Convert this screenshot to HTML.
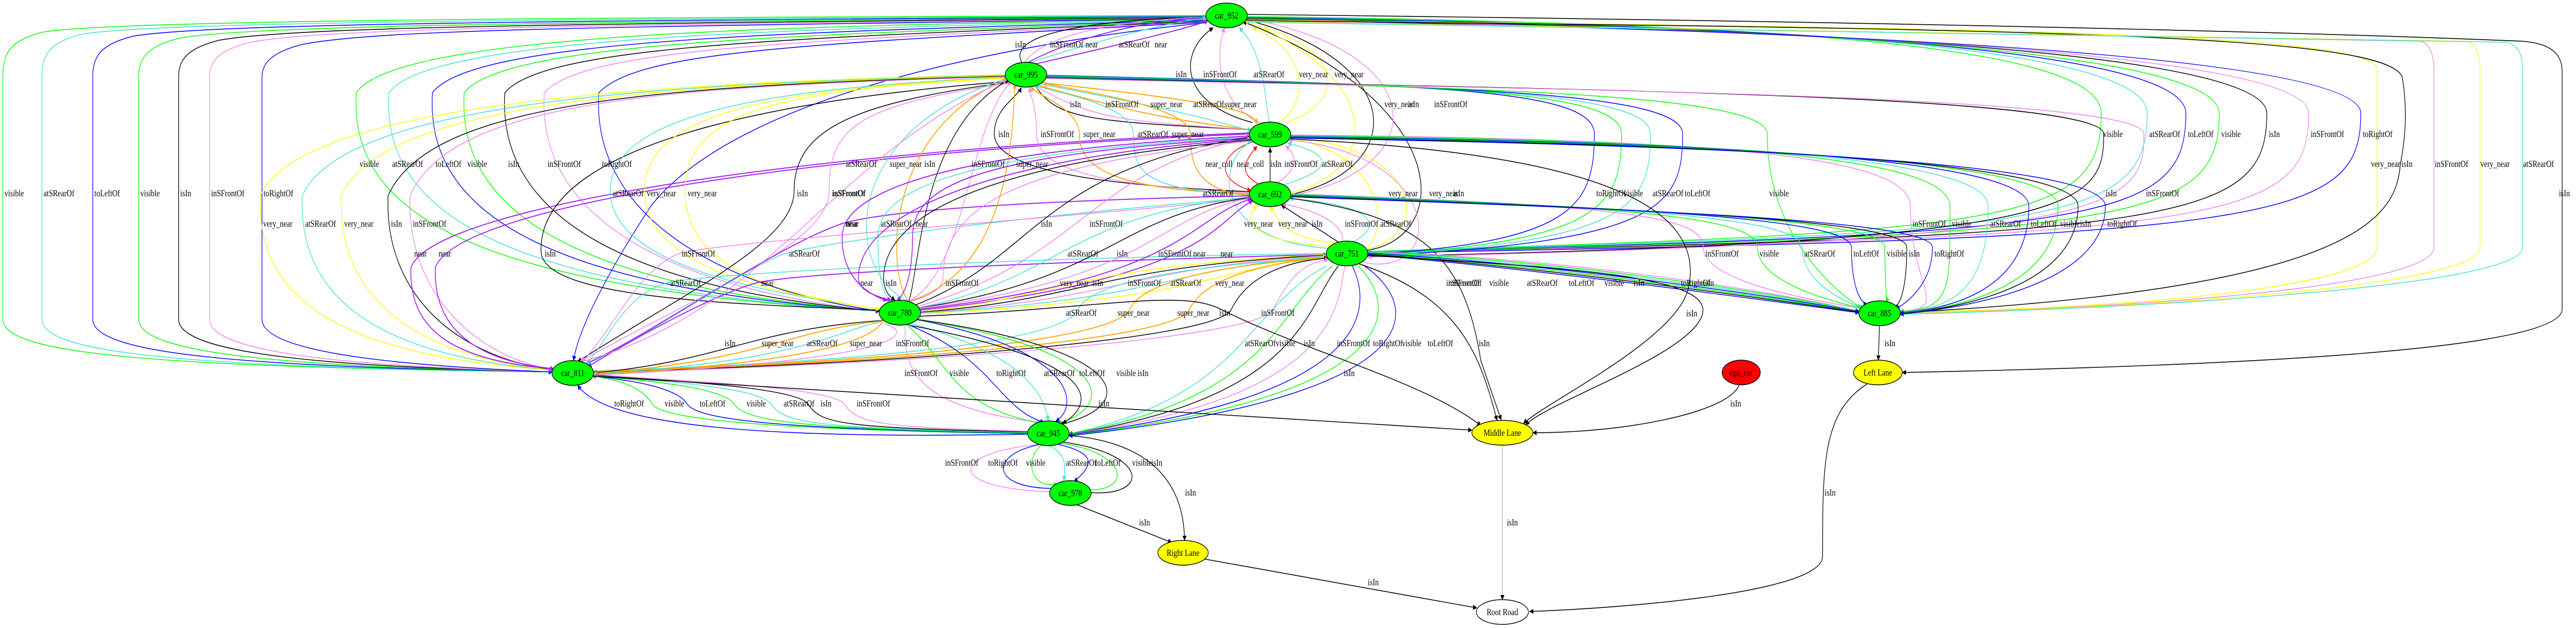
<!DOCTYPE html>
<html><head><meta charset="utf-8">
<style>
html,body{margin:0;padding:0;background:#fff;overflow:hidden;width:100%;height:100%;}
svg{display:block;width:100vw;height:100vh;}
path{fill:none;stroke-width:1.6;}
.k{stroke:#000;marker-end:url(#mk);}
.g{stroke:#00ff00;marker-end:url(#mg);}
.t{stroke:#40e0d0;marker-end:url(#mt);}
.b{stroke:#0000ff;marker-end:url(#mb);}
.v{stroke:#ee82ee;marker-end:url(#mv);}
.p{stroke:#a020f0;stroke-width:2;marker-end:url(#mp);}
.y{stroke:#ffff00;marker-end:url(#my);}
.o{stroke:#ffa500;stroke-width:2;marker-end:url(#mo);}
.r{stroke:#ff0000;marker-end:url(#mr);}
.gr{stroke:#888;stroke-width:1;marker-end:url(#mk);}
text{font-family:"Liberation Serif","Times New Roman",serif;font-size:18px;fill:#000;}
.n{text-anchor:middle;}
</style></head><body>
<svg viewBox="0 0 6332 1219" preserveAspectRatio="none" xmlns="http://www.w3.org/2000/svg">
<defs>
<marker id="mk" viewBox="0 0 10 10" refX="9" refY="5" markerWidth="14" markerHeight="10" markerUnits="userSpaceOnUse" orient="auto"><path d="M0,0L10,5L0,10z" style="fill:#000;stroke:none"/></marker>
<marker id="mg" viewBox="0 0 10 10" refX="9" refY="5" markerWidth="14" markerHeight="10" markerUnits="userSpaceOnUse" orient="auto"><path d="M0,0L10,5L0,10z" style="fill:#00ff00;stroke:none"/></marker>
<marker id="mt" viewBox="0 0 10 10" refX="9" refY="5" markerWidth="14" markerHeight="10" markerUnits="userSpaceOnUse" orient="auto"><path d="M0,0L10,5L0,10z" style="fill:#40e0d0;stroke:none"/></marker>
<marker id="mb" viewBox="0 0 10 10" refX="9" refY="5" markerWidth="14" markerHeight="10" markerUnits="userSpaceOnUse" orient="auto"><path d="M0,0L10,5L0,10z" style="fill:#0000ff;stroke:none"/></marker>
<marker id="mv" viewBox="0 0 10 10" refX="9" refY="5" markerWidth="14" markerHeight="10" markerUnits="userSpaceOnUse" orient="auto"><path d="M0,0L10,5L0,10z" style="fill:#ee82ee;stroke:none"/></marker>
<marker id="mp" viewBox="0 0 10 10" refX="9" refY="5" markerWidth="14" markerHeight="10" markerUnits="userSpaceOnUse" orient="auto"><path d="M0,0L10,5L0,10z" style="fill:#a020f0;stroke:none"/></marker>
<marker id="my" viewBox="0 0 10 10" refX="9" refY="5" markerWidth="14" markerHeight="10" markerUnits="userSpaceOnUse" orient="auto"><path d="M0,0L10,5L0,10z" style="fill:#ffff00;stroke:none"/></marker>
<marker id="mo" viewBox="0 0 10 10" refX="9" refY="5" markerWidth="14" markerHeight="10" markerUnits="userSpaceOnUse" orient="auto"><path d="M0,0L10,5L0,10z" style="fill:#ffa500;stroke:none"/></marker>
<marker id="mr" viewBox="0 0 10 10" refX="9" refY="5" markerWidth="14" markerHeight="10" markerUnits="userSpaceOnUse" orient="auto"><path d="M0,0L10,5L0,10z" style="fill:#ff0000;stroke:none"/></marker>
</defs>

<path class="g" d="M2966,30 C1500,34 307,38 107,62 C27,78 7,100 7,150 L7,620 C7,690 407,712 1358,722"/>
<path class="t" d="M2966,31 C1500,37 403,41 203,66 C123,82 103,104 103,150 L103,620 C103,690 503,712 1358,722"/>
<path class="b" d="M2966,32 C1500,40 528,44 328,70 C248,86 228,108 228,150 L228,620 C228,690 628,712 1358,722"/>
<path class="g" d="M2966,33 C1500,43 641,47 441,74 C361,90 341,112 341,150 L341,620 C341,690 741,712 1358,722"/>
<path class="k" d="M2966,34 C1500,46 739,50 539,78 C459,94 439,116 439,150 L439,620 C439,690 839,712 1358,722"/>
<path class="v" d="M2966,35 C1500,49 815,53 615,82 C535,98 515,120 515,150 L515,620 C515,690 915,712 1358,722"/>
<path class="b" d="M2966,36 C1500,52 944,56 744,86 C664,102 644,124 644,150 L644,620 C644,690 1044,712 1358,722"/>

<path class="g" d="M2966,37 C2000,50 976,60 876,180 C856,420 1176,560 2162,604"/>
<path class="t" d="M2966,38 C2000,56 1056,66 956,180 C936,420 1256,560 2162,604"/>
<path class="b" d="M2966,39 C2000,62 1163,72 1063,180 C1043,420 1363,560 2162,604"/>
<path class="g" d="M2966,40 C2000,68 1241,78 1141,180 C1121,420 1441,560 2162,604"/>
<path class="k" d="M2966,41 C2000,74 1341,84 1241,180 C1221,420 1541,560 2162,604"/>
<path class="v" d="M2966,42 C2000,80 1438,90 1338,180 C1318,420 1638,560 2162,604"/>
<path class="b" d="M2966,43 C2000,86 1572,96 1472,180 C1452,420 1772,560 2162,604"/>
<path class="b" d="M2966,44 C2400,90 1800,200 1600,400 C1500,520 1420,640 1410,700"/>

<path class="y" d="M2472,145 C1600,160 740,200 640,380 C630,560 790,690 1360,718"/>
<path class="t" d="M2472,146 C1600,162 843,200 743,380 C733,560 893,690 1360,718"/>
<path class="y" d="M2472,147 C1600,164 939,200 839,380 C829,560 989,690 1360,718"/>
<path class="k" d="M2472,148 C1600,166 1054,200 954,380 C944,560 1104,690 1360,718"/>
<path class="v" d="M2472,149 C1600,168 1108,200 1008,380 C998,560 1158,690 1360,718"/>
<path class="p" d="M3072,258 C2000,290 1060,400 1010,520 C1005,640 1110,700 1362,716"/>
<path class="p" d="M3072,260 C2000,295 1120,400 1070,520 C1065,640 1170,700 1362,716"/>
<path class="k" d="M2480,158 C1800,200 1320,300 1330,490 C1340,580 1800,590 2162,602"/>
<path class="t" d="M2472,150 C1900,170 1500,220 1500,370 C1500,520 1900,570 2162,600"/>
<path class="y" d="M2472,151 C1900,172 1584,220 1584,370 C1584,520 1900,570 2162,600"/>
<path class="y" d="M2472,152 C1900,174 1684,220 1684,370 C1684,520 1900,570 2162,600"/>
<path class="k" d="M2475,160 C2100,200 1952,250 1952,370 C1952,470 1700,560 1420,702"/>
<path class="v" d="M2475,162 C2100,205 2038,250 2038,370 C2038,470 1750,560 1425,702"/>
<path class="p" d="M3075,380 C2500,390 2170,410 2070,434 C1900,480 1600,650 1440,706"/>
<path class="t" d="M3075,384 C2500,420 2030,470 1930,492 C1830,520 1600,650 1440,708"/>
<path class="v" d="M3075,386 C2500,430 1770,470 1670,492 C1570,520 1500,650 1430,702"/>
<path class="t" d="M3262,492 C2500,500 1740,530 1640,549 C1540,570 1500,650 1440,710"/>
<path class="p" d="M3262,494 C2500,510 1960,530 1860,549 C1760,570 1550,660 1445,712"/>

<path class="k" d="M2512,122 C2475,70 2645,40 2966,33"/>
<path class="v" d="M2518,122 C2561,70 2731,40 2966,33"/>
<path class="p" d="M2525,122 C2648,70 2818,40 2966,34"/>
<path class="t" d="M2530,122 C2730,70 2900,40 2966,35"/>
<path class="p" d="M2540,125 C2818,75 2940,50 2970,40"/>
<path class="k" d="M3079,238 C2896,200 2896,100 2982,54"/>
<path class="v" d="M3097,238 C2988,200 2988,100 3010,54"/>
<path class="t" d="M3121,238 C3109,200 3109,100 3046,54"/>
<path class="y" d="M3143,238 C3219,200 3219,100 3079,54"/>
<path class="y" d="M3161,238 C3306,200 3306,100 3105,54"/>
<path class="k" d="M2545,167 C2600,230 2660,235 3076,252"/>
<path class="v" d="M2545,167 C2687,230 2747,235 3076,252"/>
<path class="o" d="M2548,165 C2798,220 2858,230 3076,252"/>
<path class="t" d="M2550,162 C2903,215 2963,230 3076,254"/>
<path class="o" d="M2555,160 C3017,200 3077,215 3090,240"/>
<path class="k" d="M3075,372 C2700,360 2444,330 2444,260 C2444,210 2500,190 2510,170"/>
<path class="v" d="M3075,374 C2700,360 2548,330 2548,260 C2548,210 2535,190 2530,170"/>
<path class="o" d="M3075,376 C2750,370 2653,330 2653,260 C2653,210 2545,185 2535,168"/>
<path class="t" d="M3075,378 C2800,370 2786,330 2786,260 C2786,200 2560,175 2545,165"/>
<path class="o" d="M3075,380 C2950,370 2926,330 2926,260 C2926,200 2580,170 2565,160"/>
<path class="t" d="M2230,584 C2069,520 2069,250 2478,152"/>
<path class="o" d="M2232,584 C2177,520 2177,250 2478,153"/>
<path class="k" d="M2234,584 C2262,520 2262,250 2480,155"/>
<path class="v" d="M2236,584 C2378,520 2378,250 2485,158"/>
<path class="o" d="M2238,584 C2488,520 2488,250 2495,163"/>
<path class="r" d="M3080,275 C2990,300 2990,350 3075,370"/>
<path class="r" d="M3100,360 C3050,340 3050,320 3090,284"/>
<path class="k" d="M3122,353 L3122,287"/>
<path class="v" d="M3140,355 C3190,330 3190,300 3160,283"/>
<path class="t" d="M3150,360 C3280,330 3280,300 3165,278"/>
<path class="v" d="M1430,702 C1900,600 2046,300 2475,155"/>
<path class="t" d="M3268,482 C2990,470 2980,320 3078,272"/>
<path class="y" d="M3355,482 C3413,460 3413,300 3168,268"/>
<path class="y" d="M3358,484 C3513,460 3513,290 3170,266"/>
<path class="k" d="M3360,486 C3572,460 3572,200 3055,42"/>
<path class="y" d="M3170,375 C3400,330 3400,150 3060,40"/>
<path class="k" d="M3170,378 C3461,330 3461,120 3062,38"/>
<path class="v" d="M3170,380 C3525,330 3525,100 3064,36"/>
<path class="p" d="M3072,264 C2400,290 2070,360 2070,460 C2070,560 2170,580 2180,584"/>
<path class="t" d="M3072,266 C2400,295 2158,360 2158,460 C2158,560 2180,580 2190,584"/>
<path class="p" d="M3072,268 C2400,300 2243,360 2243,460 C2243,560 2210,580 2205,584"/>
<path class="k" d="M2250,592 C2550,500 2550,330 3075,266"/>
<path class="v" d="M2255,595 C2670,500 2670,330 3075,268"/>
<path class="y" d="M3275,478 C3058,470 3058,420 3090,400"/>
<path class="y" d="M3285,472 C3142,460 3142,420 3122,402"/>
<path class="k" d="M3290,470 L3150,398"/>
<path class="v" d="M3300,468 C3306,440 3250,410 3150,395"/>
<path class="t" d="M3330,468 C3393,440 3393,400 3170,385"/>
<path class="t" d="M2255,598 C2614,540 2614,420 3075,382"/>
<path class="k" d="M2257,598 C2735,540 2735,420 3075,383"/>
<path class="v" d="M2259,598 C2837,540 2837,420 3075,384"/>
<path class="p" d="M2261,600 C2923,540 2923,420 3077,386"/>
<path class="p" d="M2263,602 C2990,540 2990,420 3080,390"/>
<path class="p" d="M3075,270 C2500,300 2110,400 2110,540 C2110,570 2180,580 2190,583"/>
<path class="k" d="M3075,272 C2500,310 2172,400 2172,540 C2172,570 2195,580 2200,583"/>
<path class="v" d="M3075,274 C2500,320 2318,400 2318,540 C2318,570 2240,585 2225,588"/>
<path class="y" d="M2262,605 C2600,580 2600,520 3262,494"/>
<path class="k" d="M2262,606 C2680,580 2680,520 3262,495"/>
<path class="v" d="M2262,607 C2767,580 2767,520 3262,496"/>
<path class="t" d="M2262,608 C2872,580 2872,520 3262,497"/>
<path class="y" d="M2262,609 C2982,580 2982,520 3262,498"/>
<path class="v" d="M3355,510 C3555,540 3555,300 3168,272"/>
<path class="t" d="M1458,720 C2200,700 2620,660 2650,600 C2700,520 3200,505 3264,498"/>
<path class="o" d="M1458,721 C2200,702 2747,660 2777,600 C2827,520 3200,505 3264,499"/>
<path class="o" d="M1458,722 C2200,704 2894,660 2924,600 C2974,520 3200,505 3264,500"/>
<path class="k" d="M1458,723 C2200,706 2997,660 3027,600 C3077,520 3200,505 3264,501"/>
<path class="v" d="M1458,724 C2200,708 3100,660 3130,600 C3180,520 3220,510 3266,503"/>
<path class="k" d="M2170,622 C1841,640 1781,700 1458,724"/>
<path class="o" d="M2170,623 C1932,642 1872,700 1458,725"/>
<path class="t" d="M2170,624 C2043,644 1983,700 1458,726"/>
<path class="o" d="M2170,625 C2149,646 2089,700 1458,727"/>
<path class="v" d="M2172,628 C2262,648 2202,700 1458,728"/>
<path class="t" d="M3261,516 C3060,600 3060,770 2627,842"/>
<path class="g" d="M3276,516 C3136,600 3136,770 2627,842"/>
<path class="k" d="M3290,516 C3205,600 3205,770 2627,843"/>
<path class="v" d="M3306,516 C3286,600 3286,770 2627,843"/>
<path class="b" d="M3324,516 C3375,600 3375,770 2627,844"/>
<path class="g" d="M3338,516 C3446,600 3446,770 2627,845"/>
<path class="b" d="M3350,514 C3509,600 3509,770 2627,846"/>
<path class="k" d="M3340,512 C3600,580 3640,700 3680,816"/>
<path class="k" d="M3172,385 C3500,420 3600,500 3640,700 L3690,815"/>
<path class="k" d="M2255,614 C2700,600 2900,560 3000,600 C3200,680 3500,740 3640,826"/>
<path class="v" d="M2225,630 C2223,700 2223,790 2560,820"/>
<path class="g" d="M2228,630 C2334,700 2334,790 2562,822"/>
<path class="b" d="M2232,630 C2449,700 2449,790 2566,820"/>
<path class="t" d="M2240,628 C2566,700 2566,790 2578,816"/>
<path class="b" d="M2250,620 C2653,680 2653,790 2595,818"/>
<path class="g" d="M2252,620 C2744,680 2744,790 2600,822"/>
<path class="k" d="M2254,620 C2796,680 2796,790 2605,824"/>
<path class="k" d="M2240,632 C2700,700 2700,780 2612,822"/>
<path class="b" d="M2527,843 C2000,850 1500,840 1420,748"/>
<path class="g" d="M2527,842 C2000,835 1634,820 1604,785 C1574,745 1500,735 1456,730"/>
<path class="b" d="M2527,841 C2000,834 1720,820 1690,785 C1660,745 1500,735 1456,729"/>
<path class="g" d="M2527,840 C2000,833 1835,820 1805,785 C1775,745 1500,735 1456,728"/>
<path class="t" d="M2527,839 C2000,832 1926,820 1896,785 C1866,745 1500,735 1456,727"/>
<path class="k" d="M2527,838 C2050,831 2017,820 1987,785 C1957,745 1500,735 1456,726"/>
<path class="v" d="M2527,837 C2150,830 2106,820 2076,785 C2046,745 1500,735 1456,725"/>
<path class="k" d="M1456,730 L3618,835"/>
<path class="v" d="M2560,862 C2323,880 2323,950 2595,955"/>
<path class="b" d="M2562,862 C2429,880 2429,950 2597,948"/>
<path class="g" d="M2565,862 C2522,880 2522,950 2600,940"/>
<path class="t" d="M2577,865 C2620,880 2620,900 2615,933"/>
<path class="b" d="M2600,862 C2692,880 2692,900 2640,935"/>
<path class="g" d="M2605,860 C2783,880 2783,960 2660,950"/>
<path class="k" d="M2610,858 C2830,880 2830,970 2665,955"/>
<path class="k" d="M2620,845 C2900,860 2910,1000 2912,1049"/>
<path class="k" d="M2648,980 L2880,1053"/>
<path class="gr" d="M3693,864 L3693,1164"/>
<path class="k" d="M2960,1085 L3630,1180"/>
<path class="k" d="M4590,745 C4480,800 4480,900 4480,1080 C4480,1150 4000,1180 3760,1187"/>
<path class="k" d="M4620,632 L4617,699"/>
<path class="k" d="M4275,747 C4250,800 4000,840 3768,840"/>
<path class="k" d="M3065,28 C5000,45 5900,70 6200,80 C6280,85 6298,110 6298,140 L6298,600 C6298,680 5500,710 4676,723"/>

<path class="g" d="M3065,32 C4400,45 5165,90 5165,220 C5165,430 4965,450 3361,488"/>
<path class="t" d="M3065,33 C4400,47 5278,92 5278,220 C5278,430 5078,452 3361,488"/>
<path class="b" d="M3065,34 C4400,49 5373,94 5373,220 C5373,430 5173,454 3361,489"/>
<path class="g" d="M3065,35 C4400,51 5455,96 5455,220 C5455,430 5255,456 3361,489"/>
<path class="k" d="M3065,36 C4400,53 5572,98 5572,220 C5572,430 5372,458 3361,490"/>
<path class="v" d="M3065,37 C4400,55 5675,100 5675,220 C5675,430 5475,460 3361,490"/>
<path class="b" d="M3065,38 C4400,57 5803,102 5803,220 C5803,430 5603,462 3361,491"/>

<path class="y" d="M3065,39 C5000,55 5780,65 5843,130 L5843,480 C5843,560 5200,600 4670,606"/>
<path class="k" d="M3065,40 C5000,56 5870,66 5905,150 C5920,220 5910,280 5900,320 C5890,420 5800,560 4670,607"/>
<path class="v" d="M3065,41 C5000,70 5900,78 5950,80 C5975,85 5983,110 5983,140 L5983,480 C5983,560 5200,600 4670,608"/>
<path class="y" d="M3065,42 C5000,72 6000,80 6060,80 C6090,85 6096,110 6096,140 L6096,480 C6096,560 5200,600 4670,609"/>
<path class="t" d="M3065,43 C5000,66 6100,78 6160,82 C6195,88 6201,110 6201,140 L6201,480 C6201,560 5200,600 4670,610"/>

<path class="b" d="M2572,146 C3500,165 3919,170 3919,260 C3919,400 3869,470 3361,494"/>
<path class="g" d="M2572,147 C3500,166 3986,171 3986,260 C3986,400 3936,470 3361,495"/>
<path class="t" d="M2572,148 C3500,167 4057,172 4057,260 C4057,400 4007,470 3361,496"/>
<path class="b" d="M2572,149 C3500,168 4136,173 4136,260 C4136,400 4086,470 3361,497"/>
<path class="g" d="M2572,150 C3500,170 4344,175 4344,260 C4344,450 4500,560 4575,598"/>
<path class="k" d="M2572,151 C3500,171 5171,176 5171,260 C5171,400 5121,470 3361,498"/>
<path class="v" d="M2572,152 C3500,172 5270,177 5270,260 C5270,400 5220,470 3361,499"/>
<path class="v" d="M3172,262 C4200,270 4696,300 4696,400 C4696,560 4800,600 4670,604"/>
<path class="g" d="M3172,263 C4200,272 4793,302 4793,400 C4793,560 4800,600 4670,605"/>
<path class="t" d="M3172,264 C4200,274 4887,304 4887,400 C4887,560 4800,600 4670,606"/>
<path class="b" d="M3172,265 C4200,276 4987,306 4987,400 C4987,560 4800,600 4670,607"/>
<path class="g" d="M3172,266 C4200,278 5059,308 5059,400 C5059,560 4800,600 4670,608"/>
<path class="k" d="M3172,267 C4200,280 5108,310 5108,400 C5108,560 4800,600 4670,609"/>
<path class="b" d="M3172,268 C4200,282 5175,312 5175,400 C5175,560 4800,600 4670,610"/>
<path class="v" d="M3172,376 C4000,400 4187,420 4187,480 C4187,560 4570,595 4580,600"/>
<path class="g" d="M3172,377 C4000,401 4320,421 4320,480 C4320,560 4570,595 4580,600"/>
<path class="t" d="M3172,378 C4000,402 4430,422 4430,480 C4430,560 4570,595 4582,600"/>
<path class="b" d="M3172,379 C4000,403 4551,423 4551,480 C4551,560 4575,590 4590,590"/>
<path class="g" d="M3172,380 C4000,404 4633,424 4633,480 C4633,560 4640,580 4635,586"/>
<path class="k" d="M3172,381 C4000,405 4687,425 4687,480 C4687,560 4670,595 4655,596"/>
<path class="b" d="M3172,382 C4000,406 4750,426 4750,480 C4750,560 4670,595 4660,600"/>
<path class="v" d="M3361,488 C3800,500 4300,555 4570,604"/>
<path class="g" d="M3361,489 C3800,504 4300,559 4570,604"/>
<path class="t" d="M3361,490 C3800,508 4300,563 4570,605"/>
<path class="b" d="M3361,491 C3800,512 4300,567 4570,605"/>
<path class="g" d="M3361,492 C3800,516 4300,571 4570,606"/>
<path class="k" d="M3361,493 C3800,520 4300,575 4570,606"/>
<path class="b" d="M3361,494 C3800,524 4300,579 4570,607"/>
<path class="k" d="M3172,270 C4000,300 4190,420 4150,560 C4120,660 3800,780 3745,822"/>
<path class="k" d="M3361,496 C3900,520 4180,540 4186,600 C4190,680 3800,780 3750,825"/>

<g stroke="#000" stroke-width="1.5">
<ellipse cx="3015" cy="30" rx="51" ry="24" fill="#00ff00"/>
<ellipse cx="2522" cy="145" rx="51" ry="24" fill="#00ff00"/>
<ellipse cx="3122" cy="261" rx="51" ry="24" fill="#00ff00"/>
<ellipse cx="3122" cy="377" rx="51" ry="24" fill="#00ff00"/>
<ellipse cx="3311" cy="492" rx="51" ry="24" fill="#00ff00"/>
<ellipse cx="2212" cy="607" rx="51" ry="24" fill="#00ff00"/>
<ellipse cx="1408" cy="724" rx="51" ry="24" fill="#00ff00"/>
<ellipse cx="2577" cy="841" rx="51" ry="24" fill="#00ff00"/>
<ellipse cx="2631" cy="957" rx="51" ry="24" fill="#00ff00"/>
<ellipse cx="4620" cy="608" rx="51" ry="24" fill="#00ff00"/>
<ellipse cx="4280" cy="723" rx="47" ry="24" fill="#ff0000"/>
<ellipse cx="4616" cy="723" rx="60" ry="24" fill="#ffff00"/>
<ellipse cx="3693" cy="840" rx="75" ry="24" fill="#ffff00"/>
<ellipse cx="2908" cy="1073" rx="62" ry="24" fill="#ffff00"/>
<ellipse cx="3693" cy="1188" rx="64" ry="24" fill="#ffffff"/>
</g>
<g>
<text class="n" x="3015" y="36">car_952</text>
<text class="n" x="2522" y="151">car_995</text>
<text class="n" x="3122" y="267">car_599</text>
<text class="n" x="3122" y="383">car_692</text>
<text class="n" x="3311" y="498">car_751</text>
<text class="n" x="2212" y="613">car_780</text>
<text class="n" x="1408" y="730">car_811</text>
<text class="n" x="2577" y="847">car_945</text>
<text class="n" x="2631" y="963">car_978</text>
<text class="n" x="4620" y="614">car_885</text>
<text class="n" x="4280" y="729">ego_car</text>
<text class="n" x="4616" y="729">Left Lane</text>
<text class="n" x="3693" y="846">Middle Lane</text>
<text class="n" x="2908" y="1079">Right Lane</text>
<text class="n" x="3693" y="1194">Root Road</text>
</g>

<g>
<text x="11" y="381">visible</text><text x="107" y="381">atSRearOf</text><text x="232" y="381">toLeftOf</text><text x="345" y="381">visible</text><text x="443" y="381">isIn</text><text x="519" y="381">inSFrontOf</text><text x="648" y="381">toRightOf</text>
<text x="884" y="324">visible</text><text x="964" y="324">atSRearOf</text><text x="1071" y="324">toLeftOf</text><text x="1149" y="324">visible</text><text x="1249" y="324">isIn</text><text x="1346" y="324">inSFrontOf</text><text x="1480" y="324">toRightOf</text>
<text x="647" y="440">very_near</text><text x="750" y="440">atSRearOf</text><text x="846" y="440">very_near</text><text x="961" y="440">isIn</text><text x="1015" y="440">inSFrontOf</text>
<text x="1018" y="498">near</text><text x="1078" y="498">near</text><text x="1339" y="498">isIn</text>
<text x="1506" y="381">atSRearOf</text><text x="1590" y="381">very_near</text><text x="1690" y="381">very_near</text><text x="1959" y="381">isIn</text><text x="2045" y="381">inSFrontOf</text>
<text x="2078" y="440">near</text><text x="1939" y="498">atSRearOf</text><text x="1676" y="498">inSFrontOf</text><text x="1647" y="555">atSRearOf</text><text x="1871" y="555">near</text>
<text x="2495" y="92">isIn</text><text x="2581" y="92">inSFrontOf</text><text x="2668" y="92">near</text><text x="2750" y="92">atSRearOf</text><text x="2838" y="92">near</text>
<text x="2890" y="150">isIn</text><text x="2958" y="150">inSFrontOf</text><text x="3081" y="150">atSRearOf</text><text x="3193" y="150">very_near</text><text x="3280" y="150">very_near</text>
<text x="2630" y="208">isIn</text><text x="2717" y="208">inSFrontOf</text><text x="2828" y="208">super_near</text><text x="2933" y="208">atSRearOf</text><text x="3010" y="208">super_near</text>
<text x="3403" y="208">very_near</text><text x="3461" y="208">isIn</text><text x="3525" y="208">inSFrontOf</text>
<text x="2454" y="266">isIn</text><text x="2558" y="266">inSFrontOf</text><text x="2663" y="266">super_near</text><text x="2796" y="266">atSRearOf</text><text x="2880" y="266">super_near</text>
<text x="2079" y="324">atSRearOf</text><text x="2187" y="324">super_near</text><text x="2272" y="324">isIn</text><text x="2388" y="324">inSFrontOf</text><text x="2498" y="324">super_near</text>
<text x="2963" y="324">near_coll</text><text x="3040" y="324">near_coll</text><text x="3123" y="324">isIn</text><text x="3157" y="324">inSFrontOf</text><text x="3249" y="324">atSRearOf</text>
<text x="2046" y="381">inSFrontOf</text><text x="2956" y="381">atSRearOf</text><text x="3413" y="381">very_near</text><text x="3513" y="381">very_near</text><text x="3572" y="381">isIn</text>
<text x="2080" y="440">near</text><text x="2165" y="440">atSRearOf</text><text x="2250" y="440">near</text><text x="2559" y="440">isIn</text><text x="2678" y="440">inSFrontOf</text>
<text x="3058" y="440">very_near</text><text x="3142" y="440">very_near</text><text x="3224" y="440">isIn</text><text x="3306" y="440">inSFrontOf</text><text x="3393" y="440">atSRearOf</text>
<text x="2624" y="498">atSRearOf</text><text x="2745" y="498">isIn</text><text x="2847" y="498">inSFrontOf</text><text x="2933" y="498">near</text><text x="3000" y="498">near</text>
<text x="2115" y="555">near</text><text x="2177" y="555">isIn</text><text x="2324" y="555">inSFrontOf</text><text x="2605" y="555">very_near</text><text x="2685" y="555">isIn</text><text x="2772" y="555">inSFrontOf</text><text x="2877" y="555">atSRearOf</text><text x="2987" y="555">very_near</text><text x="3555" y="555">inSFrontOf</text>
<text x="2620" y="613">atSRearOf</text><text x="2747" y="613">super_near</text><text x="2894" y="613">super_near</text><text x="2997" y="613">isIn</text><text x="3100" y="613">inSFrontOf</text>
<text x="1781" y="672">isIn</text><text x="1872" y="672">super_near</text><text x="1983" y="672">atSRearOf</text><text x="2089" y="672">super_near</text><text x="2202" y="672">inSFrontOf</text>
<text x="3060" y="672">atSRearOf</text><text x="3136" y="672">visible</text><text x="3205" y="672">isIn</text><text x="3286" y="672">inSFrontOf</text><text x="3375" y="672">toRightOf</text><text x="3446" y="672">visible</text><text x="3509" y="672">toLeftOf</text><text x="3635" y="672">isIn</text>
<text x="2223" y="730">inSFrontOf</text><text x="2334" y="730">visible</text><text x="2449" y="730">toRightOf</text><text x="2566" y="730">atSRearOf</text><text x="2653" y="730">toLeftOf</text><text x="2744" y="730">visible</text><text x="2796" y="730">isIn</text><text x="3303" y="730">isIn</text>
<text x="1510" y="789">toRightOf</text><text x="1634" y="789">visible</text><text x="1720" y="789">toLeftOf</text><text x="1835" y="789">visible</text><text x="1926" y="789">atSRearOf</text><text x="2017" y="789">isIn</text><text x="2106" y="789">inSFrontOf</text><text x="2700" y="789">isIn</text><text x="4253" y="789">isIn</text>
<text x="2323" y="904">inSFrontOf</text><text x="2429" y="904">toRightOf</text><text x="2522" y="904">visible</text><text x="2620" y="904">atSRearOf</text><text x="2692" y="904">toLeftOf</text><text x="2783" y="904">visible</text><text x="2830" y="904">isIn</text>
<text x="2913" y="962">isIn</text><text x="4485" y="962">isIn</text>
<text x="2800" y="1020">isIn</text><text x="3704" y="1020">isIn</text><text x="3362" y="1136">isIn</text>
<text x="4632" y="672">isIn</text>
<text x="5170" y="266">visible</text><text x="5283" y="266">atSRearOf</text><text x="5378" y="266">toLeftOf</text><text x="5460" y="266">visible</text><text x="5577" y="266">isIn</text><text x="5680" y="266">inSFrontOf</text><text x="5808" y="266">toRightOf</text>
<text x="5828" y="324">very_near</text><text x="5903" y="324">isIn</text><text x="5985" y="324">inSFrontOf</text><text x="6097" y="324">very_near</text><text x="6202" y="324">atSRearOf</text>
<text x="6290" y="381">isIn</text>
<text x="3924" y="381">toRightOf</text><text x="3991" y="381">visible</text><text x="4062" y="381">atSRearOf</text><text x="4141" y="381">toLeftOf</text><text x="4349" y="381">visible</text><text x="5176" y="381">isIn</text><text x="5275" y="381">inSFrontOf</text>
<text x="4701" y="440">inSFrontOf</text><text x="4798" y="440">visible</text><text x="4892" y="440">atSRearOf</text><text x="4992" y="440">toLeftOf</text><text x="5064" y="440">visible</text><text x="5113" y="440">isIn</text><text x="5180" y="440">toRightOf</text>
<text x="4192" y="498">inSFrontOf</text><text x="4325" y="498">visible</text><text x="4435" y="498">atSRearOf</text><text x="4556" y="498">toLeftOf</text><text x="4638" y="498">visible</text><text x="4692" y="498">isIn</text><text x="4755" y="498">toRightOf</text>
<text x="3560" y="555">inSFrontOf</text><text x="3661" y="555">visible</text><text x="3753" y="555">atSRearOf</text><text x="3856" y="555">toLeftOf</text><text x="3944" y="555">visible</text><text x="4015" y="555">isIn</text><text x="4132" y="555">toRightOf</text><text x="4186" y="555">isIn</text>
<text x="4145" y="614">isIn</text>
</g>
</svg>
</body></html>
